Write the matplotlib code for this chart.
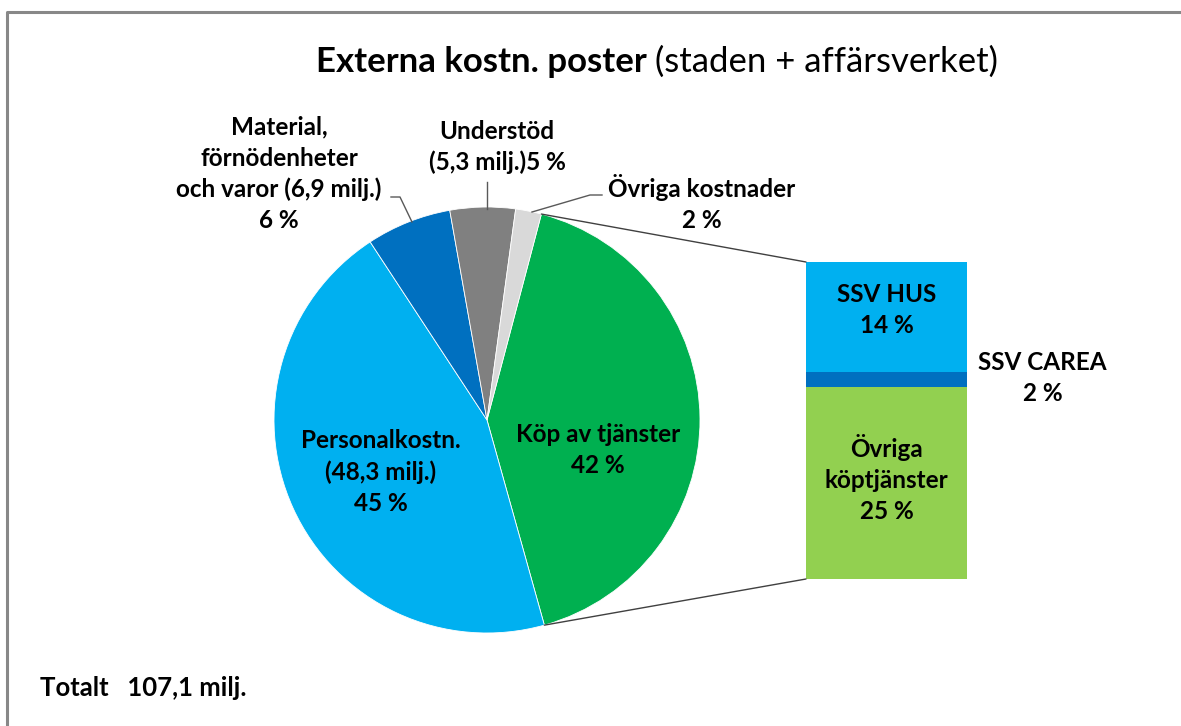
import matplotlib.pyplot as plt
from matplotlib.patches import ConnectionPatch
import numpy as np

plt.rcParams['font.family'] = ['Lato', 'DejaVu Sans']

# Huvudcirkel (milj. euro)
pie_labels = ['Köp av tjänster', 'Personalkostn.', 'Material,\nförnödenheter\noch varor', 'Understöd', 'Övriga kostnader']
pie_values = [44.5, 48.3, 6.9, 5.3, 2.1]
pie_colors = ['#00B050', '#00B0F0', '#0070C0', '#808080', '#D9D9D9']

# Uppdelning av köp av tjänster (stapel)
bar_labels = ['Övriga\nköptjänster', 'SSV CAREA', 'SSV HUS']
bar_values = [26.9, 2.1, 15.5]
bar_colors = ['#92D050', '#0070C0', '#00B0F0']

total = 107.1
W, H = 1181, 726


def pct(v):
    return f"{v / total * 100:.0f} %"


def milj(v):
    return f"{v:.1f}".replace('.', ',')


fig = plt.figure(figsize=(W / 100, H / 100), dpi=100)
ax = fig.add_axes([0, 0, 1, 1])

# ram
ax.plot([7, 7, W], [0, H - 12, H - 12], color='#888888', lw=2.2, solid_capstyle='butt')

cx, cy, r = 487, H - 420, 213
wedges, _ = ax.pie(pie_values, colors=pie_colors, startangle=75.2, counterclock=False,
                   center=(cx, cy), radius=r, frame=True,
                   wedgeprops=dict(edgecolor='white', linewidth=0.6))
ax.set_xlim(0, W)
ax.set_ylim(0, H)
ax.set_aspect('equal')
ax.axis('off')

fs = 17.5
bold = dict(fontsize=fs, fontweight='bold', ha='center', va='center', linespacing=1.42)

ax.text(598, H - 450, f"{pie_labels[0]}\n{pct(pie_values[0])}", **bold)
ax.text(381, H - 472, f"{pie_labels[1]}\n({milj(pie_values[1])} milj.)\n{pct(pie_values[1])}", **bold)
ax.text(279, H - 174, f"Material,\nförnödenheter\noch varor ({milj(pie_values[2])} milj.)\n{pct(pie_values[2])}", **bold)
ax.text(497, H - 147, f"{pie_labels[3]}\n({milj(pie_values[3])} milj.){pct(pie_values[3])}", **bold)
ax.text(702, H - 203, f"{pie_labels[4]}\n{pct(pie_values[4])}", **bold)

# ledarlinjer
lc = '#595959'
ax.plot([391, 400, 412], [H - 197, H - 197, H - 222], color=lc, lw=1)
ax.plot([487, 487], [H - 182, H - 209], color=lc, lw=1)
ax.plot([532, 590, 602], [H - 212, H - 195, H - 195], color=lc, lw=1)

ax.text(40, H - 688, f"Totalt   {milj(total)} milj.", fontsize=18.5, fontweight='bold', ha='left', va='center')

# stapel
bx0, by0, bx1, by1 = 806, 579, 967, 262
bax = fig.add_axes([bx0 / W, (H - by0) / H, (bx1 - bx0) / W, (by0 - by1) / H])
bottoms = np.concatenate([[0], np.cumsum(bar_values)[:-1]])
bax.bar(0, bar_values, bottom=bottoms, width=1, color=bar_colors)
bax.set_xlim(-0.5, 0.5)
bax.set_ylim(0, sum(bar_values))
bax.axis('off')

bax.text(0, bottoms[0] + bar_values[0] / 2 + 0.6, f"{bar_labels[0]}\n{pct(bar_values[0])}", **bold)
bax.text(0, bottoms[2] + bar_values[2] / 2 + 1.0, f"{bar_labels[2]}\n{pct(bar_values[2])}", **bold)
bax.text(0.97, bottoms[1] + bar_values[1] / 2 + 0.3, f"{bar_labels[1]}\n{pct(bar_values[1])}", **bold)

# förbindelselinjer
w = wedges[0]
for ang, yb in [(w.theta2, sum(bar_values)), (w.theta1, 0)]:
    p = (cx + r * np.cos(np.radians(ang)), cy + r * np.sin(np.radians(ang)))
    con = ConnectionPatch(xyA=p, coordsA=ax.transData, xyB=(-0.5, yb), coordsB=bax.transData,
                          color='#404040', lw=1)
    fig.add_artist(con)

# rubrik
fig.canvas.draw()
rend = fig.canvas.get_renderer()
t1 = ax.text(0, H - 62, "Externa kostn. poster", fontsize=25, fontweight='bold', ha='left', va='center')
t2 = ax.text(0, H - 62, " (staden + affärsverket)", fontsize=25, ha='left', va='center')
w1 = t1.get_window_extent(rend).width
w2 = t2.get_window_extent(rend).width
x0 = 657 - (w1 + w2) / 2
t1.set_x(x0)
t2.set_x(x0 + w1)

fig.savefig('out.png', dpi=100)
